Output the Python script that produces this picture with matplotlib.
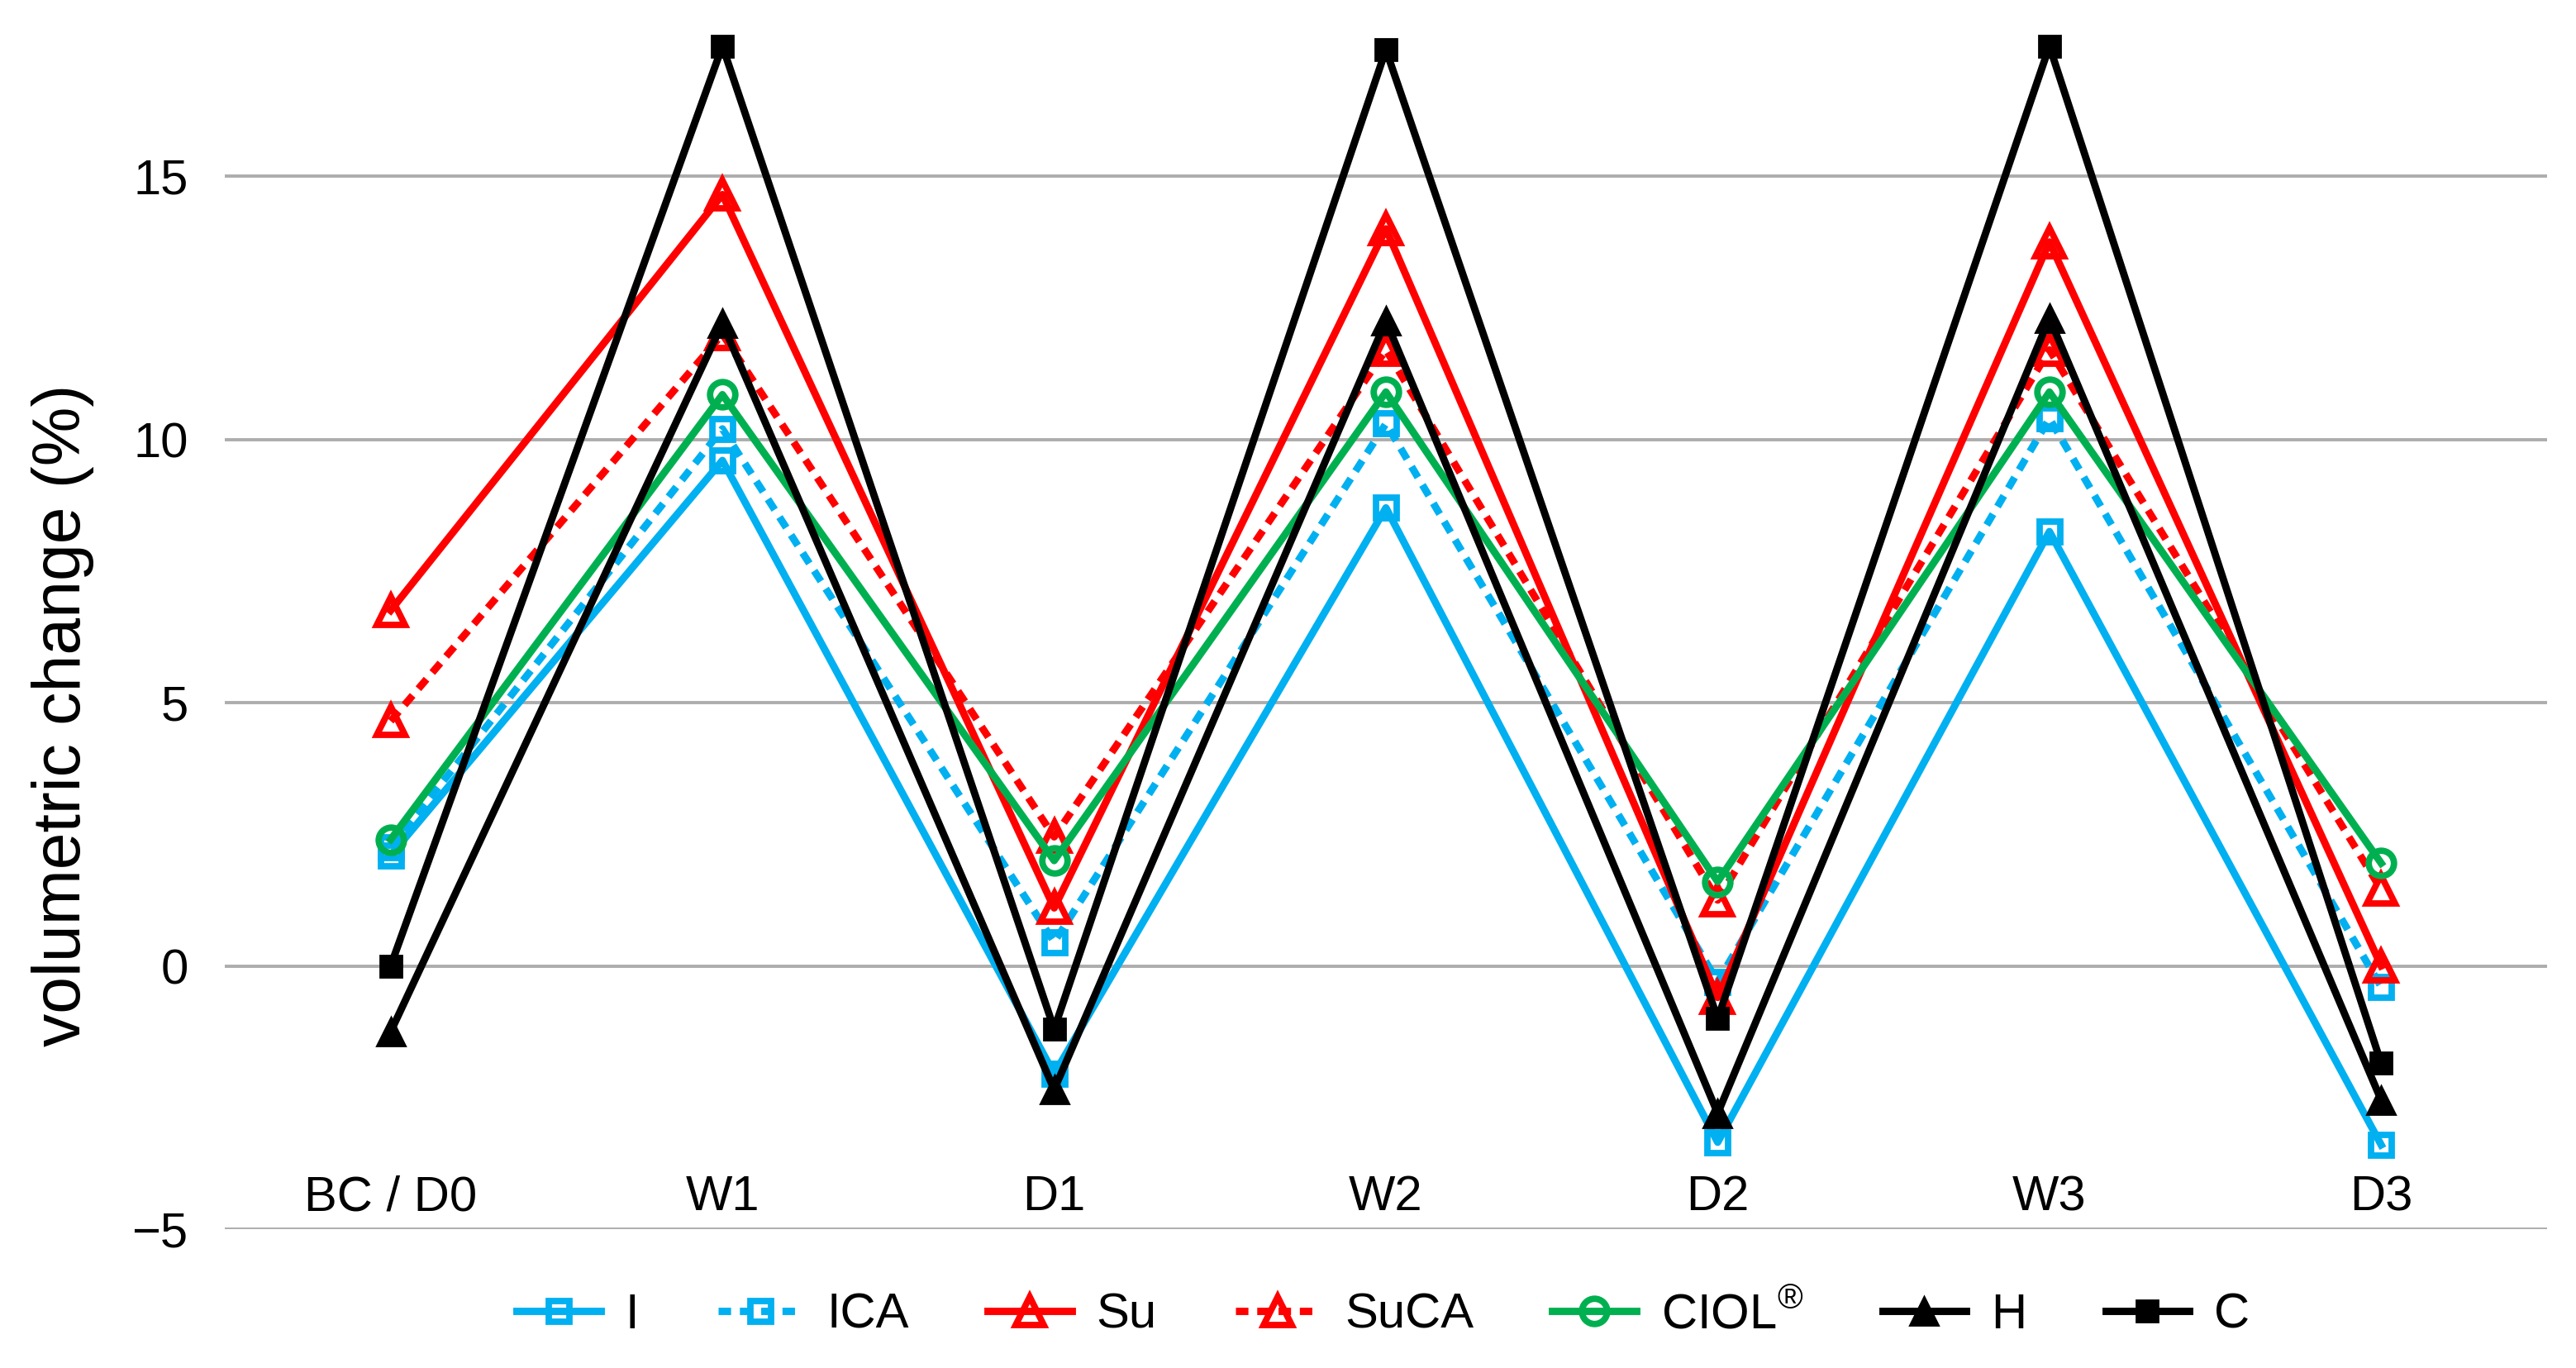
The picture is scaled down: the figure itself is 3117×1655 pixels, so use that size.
import numpy as np
import matplotlib.pyplot as plt

plt.rcParams['font.family'] = ['Liberation Sans', 'DejaVu Sans']
plt.rcParams['mathtext.fontset'] = 'custom'
plt.rcParams['mathtext.rm'] = 'Liberation Sans'

categories = ['BC / D0', 'W1', 'D1', 'W2', 'D2', 'W3', 'D3']

I = [2.1, 9.6, -2.05, 8.7, -3.35, 8.25, -3.4]
ICA = [2.25, 10.2, 0.45, 10.3, -0.3, 10.4, -0.4]
Su = [6.75, 14.65, 1.1, 14.0, -0.6, 13.75, 0.0]
SuCA = [4.65, 12.0, 2.45, 11.7, 1.25, 11.7, 1.45]
CIOL = [2.4, 10.85, 2.0, 10.9, 1.6, 10.9, 1.95]
H = [-1.25, 12.2, -2.35, 12.25, -2.8, 12.3, -2.55]
C = [0.0, 17.47, -1.2, 17.4, -1.0, 17.47, -1.85]

yticks = [-5, 0, 5, 10, 15]

blue = '#00B0F0'
red = '#FF0000'
green = '#00B050'
dots = (0, (1.7, 1.2))

fig = plt.figure(figsize=(3117 / 200, 1655 / 200), dpi=200)
ax = fig.add_axes([272 / 3117, 1 - 1487 / 1655, (3082 - 272) / 3117, (1487 - 22) / 1655])

x = np.arange(len(categories))
lw = 3.2
mew = 2.8

ax.plot(x, I, color=blue, lw=lw, marker='s', ms=9, mfc='none', mew=mew, label='I')
ax.plot(x, ICA, color=blue, lw=lw, ls=dots, marker='s', ms=9, mfc='none', mew=mew, label='ICA')
ax.plot(x, Su, color=red, lw=lw, marker='^', ms=12, mfc='none', mew=mew, label='Su')
ax.plot(x, SuCA, color=red, lw=lw, ls=dots, marker='^', ms=12, mfc='none', mew=mew, label='SuCA')
ax.plot(x, CIOL, color=green, lw=lw, marker='o', ms=11, mfc='none', mew=mew, label=r'CIOL$^{\circledR}$')
ax.plot(x, H, color='black', lw=lw, marker='^', ms=12, mew=1, label='H')
ax.plot(x, C, color='black', lw=lw, marker='s', ms=9.5, mew=1, label='C')

ax.set_xlim(-0.5, 6.5)
ax.set_ylim(-5, 18)
ax.set_yticks(yticks)
ax.set_xticks([])
ax.grid(axis='y', color='#ADADAD', lw=1.4)
ax.set_axisbelow(True)
for s in ['top', 'left', 'right', 'bottom']:
    ax.spines[s].set_visible(False)
ax.tick_params(axis='y', length=0, pad=16, labelsize=21.5)

# category labels sit just above the bottom gridline
for xi, lab in zip(x, categories):
    ax.text(xi, -4.4, lab, ha='center', va='center', fontsize=21.5)

fig.text(76 / 3117, 1 - 865 / 1655, 'volumetric change (%)', rotation=90,
         ha='center', va='center', fontsize=29)

fig.legend(loc='center', bbox_to_anchor=(0.537, 1 - 1590 / 1655), ncol=7, frameon=False,
           fontsize=21.5, handlelength=1.7, handletextpad=0.5, columnspacing=1.6)

fig.savefig('out.png', dpi=200)
